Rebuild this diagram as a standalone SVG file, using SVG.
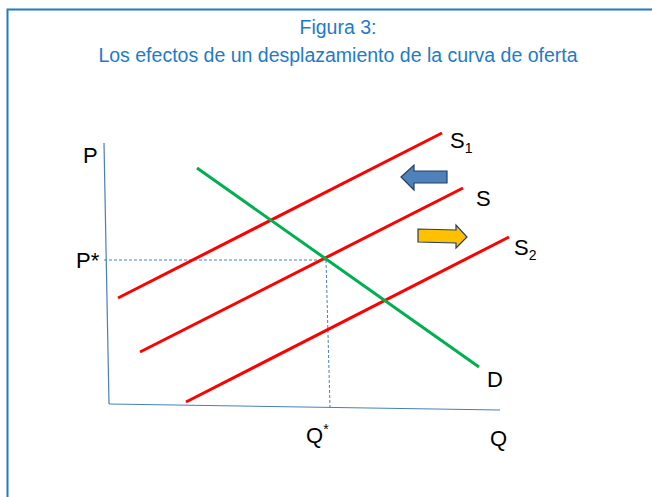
<svg xmlns="http://www.w3.org/2000/svg" width="652" height="497" viewBox="0 0 652 497">
<style>
.title{font-family:"Liberation Sans",Arial,sans-serif;font-size:19.5px;fill:#1E7BC8;text-anchor:middle}
.lbl{font-family:"Liberation Sans",Arial,sans-serif;font-size:22px;fill:#000}
.sub{font-size:14px}
.axis{stroke:#4A7EBB;stroke-width:1.2;fill:none}
.dash{stroke:#4A7EBB;stroke-width:1;stroke-dasharray:3,2;fill:none}
.sup{stroke:#FF0000;stroke-width:3;fill:none}
.dem{stroke:#00B050;stroke-width:3;fill:none}
</style>
<rect x="0" y="0" width="652" height="497" fill="#fff"/>
<path d="M7.5,497 V9.5 H652" fill="none" stroke="#1E7BC8" stroke-width="2"/>
<g id="title">
<text class="title" x="338" y="34">Figura 3:</text>
<text class="title" x="338" y="62">Los efectos de un desplazamiento de la curva de oferta</text>
</g>
<g id="axes">
<line class="axis" x1="104" y1="143" x2="109" y2="404"/>
<line class="axis" x1="109" y1="404" x2="500" y2="410"/>
<text class="lbl" x="83" y="163">P</text>
<text class="lbl" x="490" y="446">Q</text>
</g>
<g id="connectors">
<line class="dash" x1="104" y1="260" x2="326" y2="260"/>
<line class="dash" x1="326" y1="260" x2="330" y2="408"/>
</g>
<g id="S1">
<line class="sup" x1="118" y1="298" x2="442" y2="133"/>
<text class="lbl" x="450" y="148">S<tspan class="sub" dy="5">1</tspan></text>
</g>
<g id="S">
<line class="sup" x1="140" y1="352" x2="463" y2="188"/>
<text class="lbl" x="476" y="206">S</text>
</g>
<g id="S2">
<line class="sup" x1="186" y1="402" x2="509" y2="237"/>
<text class="lbl" x="514" y="255">S<tspan class="sub" dy="5">2</tspan></text>
</g>
<g id="D">
<line class="dem" x1="197" y1="168" x2="479" y2="367"/>
<text class="lbl" x="487" y="387">D</text>
</g>
<g id="Pstar"><text class="lbl" x="76" y="268">P*</text></g>
<g id="Qstar"><text class="lbl" x="306" y="443">Q<tspan class="sub" dy="-9">*</tspan></text></g>
<g id="arrow-left">
<path d="M401,177 L414,165 L414,171 L447,171 L447,183 L414,183 L414,190 Z" fill="#4F81BD" stroke="#243F60" stroke-width="1.2"/>
</g>
<g id="arrow-right">
<path d="M418,229 L456,230 L456,225 L467,237 L456,248 L456,243 L418,242 Z" fill="#FFC000" stroke="#243F60" stroke-width="1.2"/>
</g>
</svg>
